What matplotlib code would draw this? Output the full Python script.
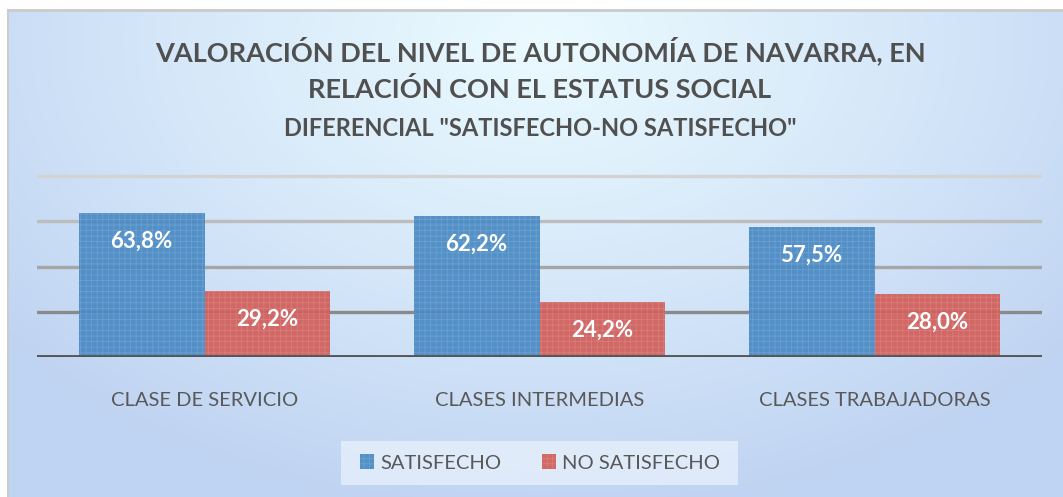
import matplotlib.pyplot as plt
import numpy as np
from matplotlib.patches import Rectangle, Patch
from matplotlib.colors import to_rgba

categories = ['CLASE DE SERVICIO', 'CLASES INTERMEDIAS', 'CLASES TRABAJADORAS']
satisfecho = [63.8, 62.2, 57.5]
no_satisfecho = [29.2, 24.2, 28.0]
series_names = ['SATISFECHO', 'NO SATISFECHO']

W, H = 1063, 497
plt.rcParams['hatch.linewidth'] = 0.5
fig = plt.figure(figsize=(W / 100, H / 100), dpi=100)
fig.patch.set_facecolor('white')
FONT = 'Lato'
HATCH_EDGE = (1, 1, 1, 0.16)
BLUE = to_rgba('#4a8ac4', 0.93)
RED = to_rgba('#d25f5a', 0.93)

# background gradient (light centre at top, bluish edges)
bg = fig.add_axes([0, 0, 1, 1], zorder=-10)
bg.set_axis_off()
yy, xx = np.mgrid[0:H, 0:W]
d = np.sqrt(((xx - 540) / 700.0) ** 2 + ((yy - 40) / 480.0) ** 2)
d = np.clip(d, 0, 1)
c0 = np.array([0.92, 0.98, 1.0])
c1 = np.array([0.75, 0.83, 0.95])
img = c0 + (c1 - c0) * d[..., None] ** 1.1
img[:9, :] = 1.0
img[:, :7] = 1.0
img[9:12, 7:] = 0.8
img[9:, 7:9] = 0.8
bg.imshow(img, extent=[0, 1, 0, 1], aspect='auto', interpolation='bilinear')
bg.set_xlim(0, 1)
bg.set_ylim(0, 1)

ax = fig.add_axes([37 / W, 1 - 357 / H, 1005 / W, 183 / H])
ax.patch.set_alpha(0)

x = np.arange(len(categories))
w = 0.376
b1 = ax.bar(x - w / 2, satisfecho, w, facecolor=BLUE,
            edgecolor=HATCH_EDGE, linewidth=0, hatch='+++', zorder=3)
b2 = ax.bar(x + w / 2, no_satisfecho, w, facecolor=RED,
            edgecolor=HATCH_EDGE, linewidth=0, hatch='+++', zorder=3)

grid_cols = {20: '#8a8a8a', 40: '#a6a6a6', 60: '#bdbdbd', 80: '#d3d3d3'}
for v, c in grid_cols.items():
    ax.axhline(v, color=c, lw=2.4, zorder=1)
ax.axhline(0, color='#555555', lw=3.5, zorder=4)

for bars in (b1, b2):
    for r in bars:
        h = r.get_height()
        ax.annotate('{:.1f}%'.format(h).replace('.', ','),
                    xy=(r.get_x() + r.get_width() / 2, h),
                    xytext=(0, -28), textcoords='offset pixels',
                    ha='center', va='center', color='white',
                    fontsize=16, fontweight='bold', family=FONT, zorder=5)

ax.set_xlim(-0.5, 2.5)
ax.set_ylim(0, 81)
ax.set_yticks([])
ax.set_xticks(x)
ax.set_xticklabels(categories, fontsize=14.5, color='#595959', family=FONT)
ax.tick_params(axis='x', length=0, pad=25)
for s in ax.spines.values():
    s.set_visible(False)

fig.text(540 / W, 1 - 51 / H, 'VALORACIÓN DEL NIVEL DE AUTONOMÍA DE NAVARRA, EN',
         ha='center', va='center', fontsize=19.5, fontweight='bold', color='#505050', family=FONT)
fig.text(540 / W, 1 - 89 / H, 'RELACIÓN CON EL ESTATUS SOCIAL',
         ha='center', va='center', fontsize=19.5, fontweight='bold', color='#505050', family=FONT)
fig.text(540 / W, 1 - 129 / H, 'DIFERENCIAL "SATISFECHO-NO SATISFECHO"',
         ha='center', va='center', fontsize=17, fontweight='bold', color='#505050', family=FONT)

# legend box
fig.patches.append(Rectangle((341 / W, 1 - 485 / H), 397 / W, 44 / H,
                             transform=fig.transFigure, facecolor='#e6f0fb',
                             alpha=0.8, edgecolor='none', zorder=0))
handles = [Patch(facecolor=BLUE, hatch='+++', edgecolor=HATCH_EDGE, linewidth=0),
           Patch(facecolor=RED, hatch='+++', edgecolor=HATCH_EDGE, linewidth=0)]
leg = fig.legend(handles, series_names, loc='center', bbox_to_anchor=(540 / W, 1 - 463 / H),
                 ncol=2, frameon=False, handlelength=0.7, handleheight=0.7,
                 handletextpad=0.3, columnspacing=2.0,
                 prop={'family': FONT, 'size': 14.5})
for t in leg.get_texts():
    t.set_color('#595959')

fig.savefig('out.png', dpi=100)
